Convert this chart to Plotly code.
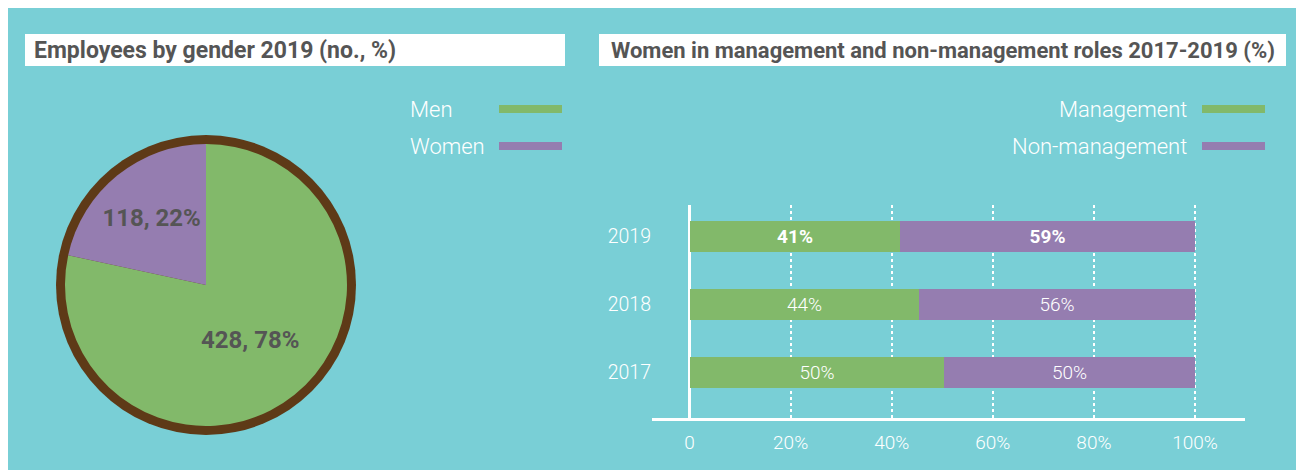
import plotly.graph_objects as go

W, H = 1304, 470
PAGE_OFFSET = 8  # the page body adds an 8px margin around the figure

# ---------------- data ----------------
gender_labels = ["Men", "Women"]
gender_counts = [428, 118]

years = ["2017", "2018", "2019"]
management = [50.3, 45.4, 41.7]
non_management = [49.7, 54.6, 58.3]
management_text = ["50%", "44%", "41%"]
non_management_text = ["50%", "56%", "59%"]
bold_year = "2019"

x_tick_values = [0, 20, 40, 60, 80, 100]
x_tick_labels = ["0", "20%", "40%", "60%", "80%", "100%"]

title_left = "Employees by gender 2019 (no., %)"
title_right = "Women in management and non-management roles 2017-2019 (%)"
legend_right = ["Management", "Non-management"]

# ---------------- style ----------------
TEAL = "#79CFD6"
GREEN = "#82B96A"
PURPLE = "#957DB0"
BROWN = "#5E3A17"
GREY = "#555555"
FONT = "Roboto"


def px(x):
    return (x - PAGE_OFFSET) / W


def py(y):
    return 1 - (y - PAGE_OFFSET) / H


def emph(texts):
    return [f"<b>{t}</b>" if y == bold_year else t for t, y in zip(texts, years)]


fig = go.Figure()

# brown ring (background disc)
fig.add_trace(go.Pie(
    values=[1], labels=["ring"], marker=dict(colors=[BROWN]),
    domain=dict(x=[px(56), px(356)], y=[py(435), py(135)]),
    textinfo="none", hoverinfo="skip", showlegend=False, sort=False,
))

# gender pie
fig.add_trace(go.Pie(
    values=gender_counts, labels=gender_labels,
    marker=dict(colors=[GREEN, PURPLE], line=dict(width=0)),
    domain=dict(x=[px(65), px(347)], y=[py(426), py(144)]),
    direction="clockwise", rotation=0, sort=False,
    texttemplate="%{value}, %{percent:.0%}", textposition="inside",
    insidetextorientation="horizontal",
    textfont=dict(family=FONT, size=24, color=GREY, weight="bold"),
    showlegend=False,
))

# stacked bars
fig.add_trace(go.Bar(
    y=years, x=management, orientation="h", name="Management",
    marker=dict(color=GREEN, line=dict(width=0)), width=0.456,
    text=emph(management_text), textposition="inside", insidetextanchor="middle",
    textfont=dict(family=FONT, size=19, color="white", weight=300), showlegend=False,
    xaxis="x", yaxis="y",
))
fig.add_trace(go.Bar(
    y=years, x=non_management, orientation="h", name="Non-management",
    marker=dict(color=PURPLE, line=dict(width=0)), width=0.456,
    text=emph(non_management_text), textposition="inside", insidetextanchor="middle",
    textfont=dict(family=FONT, size=19, color="white", weight=300), showlegend=False,
    xaxis="x", yaxis="y",
))

shapes = [
    dict(type="rect", xref="paper", yref="paper", x0=px(25), x1=px(565), y0=py(66), y1=py(34),
         fillcolor="white", line=dict(width=0), layer="below"),
    dict(type="rect", xref="paper", yref="paper", x0=px(599), x1=px(1286), y0=py(66), y1=py(34),
         fillcolor="white", line=dict(width=0), layer="below"),
]

annotations = [
    dict(text=f"<b>{title_left}</b>", x=px(32), y=py(50), xref="paper", yref="paper",
         xanchor="left", yanchor="middle", showarrow=False,
         font=dict(family=FONT, size=23, color=GREY)),
    dict(text=f"<b>{title_right}</b>", x=px(609), y=py(50), xref="paper", yref="paper",
         xanchor="left", yanchor="middle", showarrow=False,
         font=dict(family=FONT, size=22, color=GREY)),
]

# manual legends (text then swatch)
leg_colors = [GREEN, PURPLE]
leg_y = [109, 146]
for lab, col, yy in zip(gender_labels, leg_colors, leg_y):
    annotations.append(dict(text=lab, x=px(408), y=py(yy), xref="paper", yref="paper",
                            xanchor="left", yanchor="middle", showarrow=False,
                            font=dict(family=FONT, size=22, color="white", weight=300)))
    shapes.append(dict(type="rect", xref="paper", yref="paper", x0=px(499), x1=px(562),
                       y0=py(yy + 4), y1=py(yy - 4), fillcolor=col, line=dict(width=0)))
for lab, col, yy in zip(legend_right, leg_colors, leg_y):
    annotations.append(dict(text=lab, x=px(1189), y=py(yy), xref="paper", yref="paper",
                            xanchor="right", yanchor="middle", showarrow=False,
                            font=dict(family=FONT, size=22, color="white", weight=300)))
    shapes.append(dict(type="rect", xref="paper", yref="paper", x0=px(1202), x1=px(1265),
                       y0=py(yy + 4), y1=py(yy - 4), fillcolor=col, line=dict(width=0)))

fig.update_layout(
    width=W, height=H, margin=dict(l=0, r=0, t=0, b=0),
    paper_bgcolor=TEAL, plot_bgcolor="rgba(0,0,0,0)",
    barmode="stack", bargap=0,
    font=dict(family=FONT, color="white"),
    shapes=shapes, annotations=annotations,
    xaxis=dict(
        domain=[px(652), px(1245)], range=[-7.42, 109.89],
        tickvals=x_tick_values, ticktext=x_tick_labels,
        tickfont=dict(family=FONT, size=19, color="white", weight=300),
        ticks="outside", ticklen=5, tickcolor="rgba(0,0,0,0)",
        showgrid=True, gridcolor="white", griddash="dot", gridwidth=1.5,
        zeroline=True, zerolinecolor="white", zerolinewidth=3,
        showline=True, linecolor="white", linewidth=3,
        fixedrange=True,
    ),
    yaxis=dict(
        domain=[py(418), py(205)], range=[-0.669, 2.463],
        type="category", categoryorder="array", categoryarray=years,
        tickfont=dict(family=FONT, size=19.5, color="white", weight=300),
        ticks="", showgrid=False, zeroline=False, showline=False,
        fixedrange=True,
    ),
)

fig.write_html("out.html")
